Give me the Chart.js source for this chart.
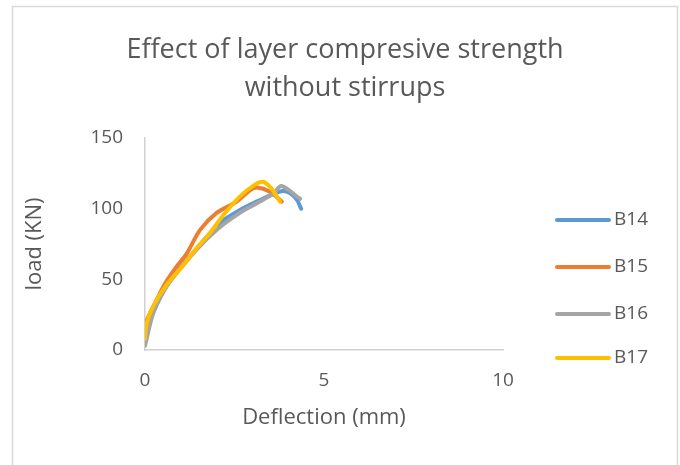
<!DOCTYPE html>
<html>
<head>
<meta charset="utf-8">
<script src="https://cdn.jsdelivr.net/npm/chart.js@4/dist/chart.umd.min.js"></script>
<style>
html,body{margin:0;padding:0;background:#fff;}
#wrap{width:680px;height:465px;position:relative;}
</style>
</head>
<body>
<div id="wrap"><canvas id="c" width="680" height="465"></canvas></div>
<script>
const seriesNames = ['B14', 'B15', 'B16', 'B17'];
const b14X = [0, 0.05, 0.25, 0.6, 1.05, 1.45, 2.1, 2.65, 3.2, 3.55, 3.85, 4.05, 4.25, 4.36];
const b14Y = [5, 15, 28, 45, 60, 72, 90, 99, 106, 110, 112.5, 111, 106, 100];
const b15X = [0, 0.05, 0.28, 0.56, 0.88, 1.16, 1.54, 2.0, 2.56, 2.93, 3.12, 3.49, 3.82];
const b15Y = [12, 21, 33, 47, 59, 68, 85, 97, 105, 113, 115, 112, 105];
const b16X = [0, 0.23, 0.6, 1.44, 2.0, 2.65, 3.21, 3.6, 3.81, 4.33];
const b16Y = [3, 26, 45, 71, 85, 97, 105, 111, 116, 107];
const b17X = [0, 0.05, 0.23, 0.6, 1.07, 1.44, 1.82, 2.19, 2.65, 3.07, 3.3, 3.54, 3.77];
const b17Y = [8, 19, 31, 46, 60, 72, 83, 95.5, 108.5, 117, 119, 114, 105];
const xTicks = [0, 5, 10];
const yTicks = [0, 50, 100, 150];
const colors = ['#5B9BD5', '#ED7D31', '#A5A5A5', '#FFC000'];
const drawOrder = [4, 3, 2, 1];
const titleLines = ['Effect of layer compresive strength', 'without stirrups'];
const xTitle = 'Deflection (mm)';
const yTitle = 'load (KN)';

const FONT = "'Open Sans', sans-serif";
const TXT = '#595959';

function pts(xs, ys){ return xs.map((x,i)=>({x:x, y:ys[i]})); }
const allX = [b14X, b15X, b16X, b17X];
const allY = [b14Y, b15Y, b16Y, b17Y];

const datasets = seriesNames.map((n,i)=>({
  label: n,
  data: pts(allX[i], allY[i]),
  borderColor: colors[i],
  backgroundColor: colors[i],
  borderWidth: 4,
  pointRadius: 0,
  tension: 0.3,
  fill: false,
  order: drawOrder[i],
  borderCapStyle: 'round',
  borderJoinStyle: 'round'
}));

const decor = {
  id: 'decor',
  afterDraw(chart){
    const ctx = chart.ctx;
    ctx.save();
    ctx.strokeStyle = '#d9d9d9';
    ctx.lineWidth = 1.5;
    ctx.strokeRect(12.5, 6.5, 665, 480);
    ctx.fillStyle = TXT;
    ctx.font = "27px " + FONT;
    ctx.textAlign = 'center';
    ctx.textBaseline = 'middle';
    ctx.fillText(titleLines[0], 345, 50);
    ctx.fillText(titleLines[1], 345, 88);
    ctx.font = "19px " + FONT;
    ctx.textAlign = 'left';
    const ys = [220, 267, 314, 358];
    seriesNames.forEach((n,i)=>{
      ctx.strokeStyle = colors[i];
      ctx.lineWidth = 4;
      ctx.lineCap = 'round';
      ctx.beginPath();
      ctx.moveTo(557, ys[i]);
      ctx.lineTo(609, ys[i]);
      ctx.stroke();
      ctx.fillStyle = TXT;
      ctx.fillText(n, 614, ys[i]);
    });
    ctx.restore();
  }
};

new Chart(document.getElementById('c'), {
  type: 'line',
  data: { datasets },
  plugins: [decor],
  options: {
    responsive: false,
    animation: false,
    devicePixelRatio: 1,
    layout: { padding: { left: 12, right: 177, top: 138, bottom: 20 } },
    plugins: { legend: { display: false }, title: { display: false }, tooltip: { enabled: false } },
    scales: {
      x: {
        type: 'linear', min: 0, max: 10,
        afterFit(s){ s.height = 95; },
        afterBuildTicks(s){ s.ticks = xTicks.map(v=>({value:v})); },
        grid: { display: false, drawTicks: false },
        border: { display: true, color: '#d0d0d0', width: 1.5 },
        ticks: { color: TXT, font: { family: FONT, size: 19 }, padding: 19, maxRotation: 0 },
        title: { display: true, text: xTitle, color: TXT, font: { family: FONT, size: 22 }, padding: { top: 0, bottom: 14 } }
      },
      y: {
        type: 'linear', min: 0, max: 150,
        afterFit(s){ s.width = 133; },
        afterBuildTicks(s){ s.ticks = yTicks.map(v=>({value:v})); },
        grid: { display: false, drawTicks: false },
        border: { display: true, color: '#d0d0d0', width: 1.5 },
        ticks: { color: TXT, font: { family: FONT, size: 19 }, padding: 22 },
        title: { display: true, text: yTitle, color: TXT, font: { family: FONT, size: 22 }, padding: { top: 10, bottom: 0 } }
      }
    }
  }
});
</script>
</body>
</html>
